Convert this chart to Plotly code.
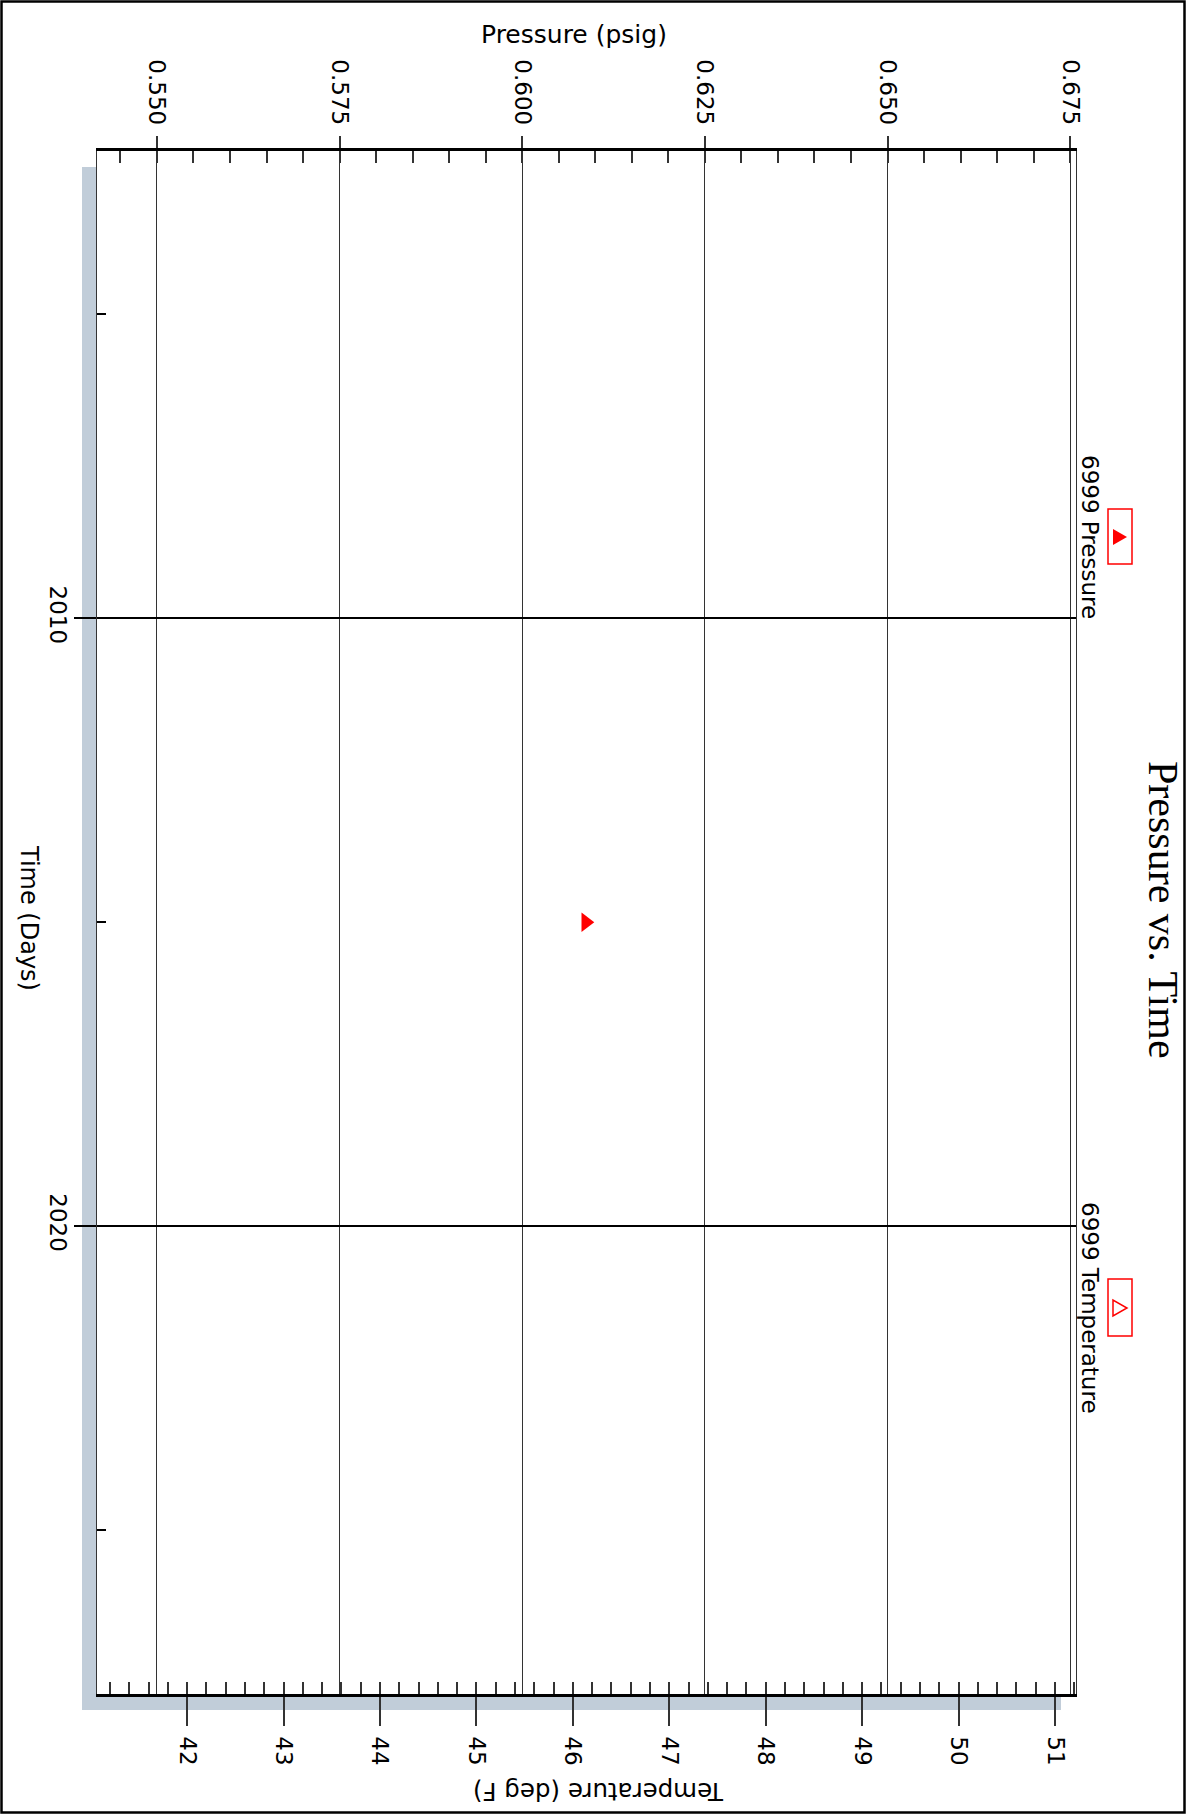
import plotly.graph_objects as go

# ---------------- data ----------------
pressure_time = [2015]
pressure_values = [0.6087]
temperature_time = []
temperature_values = []

series_names = ["6999 Pressure", "6999 Temperature"]
title_text = "Pressure vs. Time"
time_title = "Time (Days)"
pressure_title = "Pressure (psig)"
temperature_title = "Temperature (deg F)"

time_range = [2027.7, 2002.31]      # top -> bottom (reversed)
pressure_range = [0.5418, 0.6758]
temperature_range = [41.066, 51.218]

# ---------------- layout geometry (pixels) ----------------
W, H = 1187, 1814
L, R, T, B = 97, 1076, 151, 1694   # plot area edges


def px(x):
    return (x - L) / (R - L)


def py(y):
    return (B - y) / (B - T)


SANS = "DejaVu Sans"
SERIF = "Liberation Serif, Times New Roman, serif"
RED = "#ff0000"
SHADOW = "#c1cdd9"

fig = go.Figure()

fig.add_trace(go.Scatter(
    x=pressure_values, y=pressure_time, mode="markers", name=series_names[0],
    xaxis="x", yaxis="y",
    marker=dict(symbol="triangle-right", size=17, color=RED, line=dict(width=0)),
    showlegend=False,
))
fig.add_trace(go.Scatter(
    x=temperature_values, y=temperature_time, mode="markers", name=series_names[1],
    xaxis="x2", yaxis="y",
    marker=dict(symbol="triangle-right-open", size=17, color=RED),
    showlegend=False,
))

tickfont = dict(family=SANS, size=23, color="black")

fig.update_layout(
    width=W, height=H,
    margin=dict(l=L, r=W - R, t=T, b=H - B, pad=0),
    paper_bgcolor="white", plot_bgcolor="white",
    showlegend=False,
    xaxis=dict(
        side="top", range=pressure_range, tick0=0.55, dtick=0.025, tickformat=".3f",
        ticks="outside", ticklen=12, tickwidth=1.5, tickcolor="#333",
        showline=True, linewidth=2.5, linecolor="black",
        showgrid=True, gridcolor="#333", gridwidth=1, zeroline=False,
        tickangle=90, tickfont=tickfont, ticklabelstandoff=3,
        minor=dict(ticks="inside", ticklen=12, tickwidth=1.5, tickcolor="#333",
                   dtick=0.005, tick0=0.55, showgrid=False),
    ),
    xaxis2=dict(
        overlaying="x", anchor="y", side="bottom", range=temperature_range,
        tick0=42, dtick=1,
        ticks="outside", ticklen=29, tickwidth=1.5, tickcolor="#333",
        showline=True, linewidth=2.5, linecolor="black",
        showgrid=False, zeroline=False,
        tickangle=90, tickfont=tickfont, ticklabelstandoff=6,
        minor=dict(ticks="inside", ticklen=12, tickwidth=1.5, tickcolor="#333",
                   dtick=0.2, tick0=42, showgrid=False),
    ),
    yaxis=dict(
        range=time_range, tick0=2000, dtick=10,
        ticks="outside", ticklen=22, tickwidth=1.5, tickcolor="black",
        showline=True, linewidth=1.2, linecolor="#333", mirror=True,
        showgrid=True, gridcolor="black", gridwidth=1.6, zeroline=False,
        tickangle=90, tickfont=tickfont, ticklabelstandoff=-4,
        minor=dict(ticks="inside", ticklen=9, tickwidth=1.5, tickcolor="black",
                   dtick=5, tick0=2000, showgrid=False),
    ),
)

shapes = []
# drop shadow (left and bottom strips)
shapes.append(dict(type="rect", xref="paper", yref="paper", layer="below",
                   x0=px(82), x1=px(L), y0=py(1710), y1=py(167),
                   fillcolor=SHADOW, line=dict(width=0)))
shapes.append(dict(type="rect", xref="paper", yref="paper", layer="below",
                   x0=px(82), x1=px(1061), y0=py(1710), y1=py(B),
                   fillcolor=SHADOW, line=dict(width=0)))
# outer border
shapes.append(dict(type="rect", xref="paper", yref="paper", layer="above",
                   x0=px(1.5), x1=px(1184.5), y0=py(1812.5), y1=py(1.5),
                   line=dict(color="black", width=2.5), fillcolor="rgba(0,0,0,0)"))

# legend boxes and symbols
legend_items = [
    dict(name=series_names[0], cy=537, y0=509, y1=564, filled=True),
    dict(name=series_names[1], cy=1308, y0=1279, y1=1336, filled=False),
]
for it in legend_items:
    shapes.append(dict(type="rect", xref="paper", yref="paper", layer="above",
                       x0=px(1108), x1=px(1132), y0=py(it["y1"]), y1=py(it["y0"]),
                       line=dict(color=RED, width=1.5), fillcolor="rgba(0,0,0,0)"))
    cy = it["cy"]
    path = "M {:.5f} {:.5f} L {:.5f} {:.5f} L {:.5f} {:.5f} Z".format(
        px(1113), py(cy - 8), px(1113), py(cy + 8), px(1127), py(cy))
    shapes.append(dict(type="path", xref="paper", yref="paper", layer="above",
                       path=path,
                       fillcolor=RED if it["filled"] else "rgba(0,0,0,0)",
                       line=dict(color=RED, width=0 if it["filled"] else 1.5)))
fig.update_layout(shapes=shapes)

annotations = [
    dict(text=title_text, x=px(1163), y=py(910), textangle=90,
         font=dict(family=SERIF, size=42, color="black")),
    dict(text=pressure_title, x=px(574), y=py(34), textangle=0,
         font=dict(family=SANS, size=25, color="black")),
    dict(text=temperature_title, x=px(599), y=py(1792), textangle=180,
         font=dict(family=SANS, size=24.5, color="black")),
    dict(text=time_title, x=px(29), y=py(918), textangle=90,
         font=dict(family=SANS, size=24, color="black")),
]
for it in legend_items:
    annotations.append(dict(text=it["name"], x=px(1090), y=py(it["cy"]), textangle=90,
                            font=dict(family=SANS, size=23, color="black")))
for a in annotations:
    a.update(xref="paper", yref="paper", xanchor="center", yanchor="middle",
             showarrow=False)
fig.update_layout(annotations=annotations)

fig.write_html("out.html")
